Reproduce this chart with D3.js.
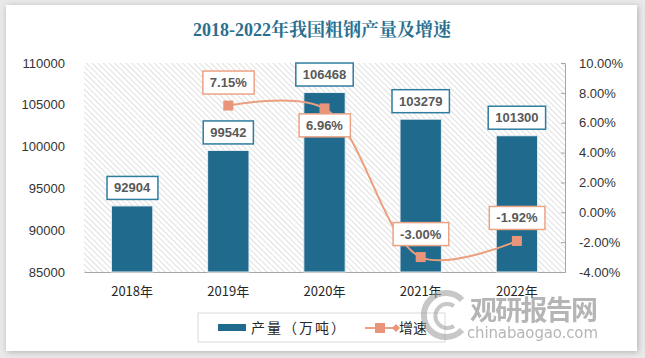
<!DOCTYPE html>
<html><head><meta charset="utf-8">
<script src="https://cdn.jsdelivr.net/npm/d3@7"></script>
<style>
html,body{margin:0;padding:0;background:#e9e9e9;}
svg{display:block;}
</style></head>
<body>
<svg id="c" width="645" height="358"></svg>
<script>
const title = "2018-2022年我国粗钢产量及增速";
const categories = ["2018年","2019年","2020年","2021年","2022年"];
const output = [92904, 99542, 106468, 103279, 101300];
const growth = [null, 7.15, 6.96, -3.00, -1.92];
const growthLabelPos = [null, "above", "below", "above", "above"];
const leftTicks = [85000, 90000, 95000, 100000, 105000, 110000];
const rightTicks = [-4, -2, 0, 2, 4, 6, 8, 10];
const seriesNames = ["产量（万吨）", "增速"];

const svg = d3.select("#c");
const font = "'Liberation Sans','DejaVu Sans',Arial,sans-serif";
const cjk = "'Noto Sans CJK SC','Noto Sans',sans-serif";

// card with shadow
const defs = svg.append("defs");
const f = defs.append("filter").attr("id","sh").attr("x","-5%").attr("y","-5%").attr("width","110%").attr("height","110%");
f.append("feGaussianBlur").attr("in","SourceAlpha").attr("stdDeviation",3);
f.append("feOffset").attr("dx",1).attr("dy",1).attr("result","b");
f.append("feComponentTransfer").append("feFuncA").attr("type","linear").attr("slope",0.25);
const fm = f.append("feMerge"); fm.append("feMergeNode"); fm.append("feMergeNode").attr("in","SourceGraphic");
svg.append("rect").attr("x",6).attr("y",5).attr("width",631).attr("height",346).attr("fill","#fff").attr("filter","url(#sh)");

// hatch pattern
const pat = defs.append("pattern").attr("id","hatch").attr("patternUnits","userSpaceOnUse")
  .attr("width",4).attr("height",4).attr("patternTransform","rotate(-45)");
pat.append("rect").attr("width",4).attr("height",4).attr("fill","#fff");
pat.append("line").attr("x1",0).attr("y1",0).attr("x2",0).attr("y2",4).attr("stroke","#d0d0d0").attr("stroke-width",1.3);

const L = 84, R = 565, T = 63, B = 272;
const x = d3.scaleBand().domain(categories).range([L,R]).paddingInner(0.57).paddingOuter(0.285);
const y = d3.scaleLinear().domain([85000,110000]).range([B,T]);
const y2 = d3.scaleLinear().domain([-4,10]).range([B,T]);

svg.append("rect").attr("x",L).attr("y",T).attr("width",R-L).attr("height",B-T).attr("fill","url(#hatch)");

// title
svg.append("text").attr("x",322).attr("y",36).attr("text-anchor","middle")
  .attr("font-family","'Liberation Serif','DejaVu Serif','Noto Serif CJK SC',serif").attr("font-weight","bold")
  .attr("font-size",18).attr("fill","#2a6f8f").text(title);

// left axis
const gl = svg.append("g").attr("transform",`translate(${L},0)`)
  .call(d3.axisLeft(y).tickValues(leftTicks).tickSize(0).tickPadding(19).tickFormat(d3.format("d")));
gl.select(".domain").remove();
gl.selectAll("text").attr("font-family",font).attr("font-size",13).attr("fill","#333");

// right axis
const gr = svg.append("g").attr("transform",`translate(${R},0)`)
  .call(d3.axisRight(y2).tickValues(rightTicks).tickSizeInner(-4).tickSizeOuter(-4).tickPadding(14).tickFormat(d => d.toFixed(2)+"%"));
gr.select(".domain").attr("stroke","#a6a6a6");
gr.selectAll("line").attr("stroke","#a6a6a6");
gr.selectAll("text").attr("font-family",font).attr("font-size",13).attr("fill","#333");

// bottom axis
const gb = svg.append("g").attr("transform",`translate(0,${B})`)
  .call(d3.axisBottom(x).tickSize(0).tickPadding(15));
gb.select(".domain").attr("stroke","#a6a6a6");
gb.selectAll("text").attr("font-family",cjk).attr("font-size",13).attr("fill","#262626");

// bars
svg.selectAll(".bar").data(output).join("rect")
  .attr("x",(d,i)=>x(categories[i])).attr("y",d=>y(d))
  .attr("width",x.bandwidth()).attr("height",d=>B-y(d))
  .attr("fill","#1f6a8d").attr("stroke","#e8eef2").attr("stroke-width",1);

// labels
function labelBox(g, cx, cy, txt, stroke){
  const t = g.append("text").attr("x",cx).attr("y",cy).attr("text-anchor","middle").attr("dy","0.35em")
    .attr("font-family",font).attr("font-weight","bold").attr("font-size",13).attr("fill","#595959").text(txt);
  const bb = t.node().getBBox();
  g.insert("rect","text").attr("x",bb.x-7).attr("y",cy-11.5).attr("width",bb.width+14).attr("height",23)
    .attr("fill","#fff").attr("stroke",stroke).attr("stroke-width",1.5);
}
output.forEach((d,i)=>{
  labelBox(svg.append("g"), x(categories[i])+x.bandwidth()/2, y(d)-18, d3.format("d")(d), "#2e7da0");
});

// growth line
const pts = growth.map((g,i)=>g==null?null:[x(categories[i])+x.bandwidth()/2, y2(g)]).filter(p=>p);
svg.append("path").attr("d",d3.line().curve(d3.curveCatmullRom.alpha(0.5))(pts))
  .attr("fill","none").attr("stroke","#eb9f7e").attr("stroke-width",2);
svg.selectAll(".mk").data(pts).join("rect")
  .attr("x",p=>p[0]-5).attr("y",p=>p[1]-5).attr("width",10).attr("height",10).attr("fill","#e8957a");

growth.forEach((g,i)=>{
  if(g==null) return;
  const cx = x(categories[i])+x.bandwidth()/2, cy = y2(g);
  const off = growthLabelPos[i]==="above" ? -23 : 17;
  labelBox(svg.append("g"), cx, cy+off, g.toFixed(2)+"%", "#eba385");
});

// legend
svg.append("rect").attr("x",198).attr("y",313).attr("width",247).attr("height",29)
  .attr("fill","#fff").attr("stroke","#d9d9d9").attr("stroke-width",1);
svg.append("rect").attr("x",218).attr("y",324).attr("width",28).attr("height",7).attr("fill","#1f6a8d");
svg.append("text").attr("x",251).attr("y",328).attr("dy","0.35em").attr("font-family",cjk).attr("font-size",14)
  .attr("fill","#262626").attr("letter-spacing",2).text(seriesNames[0]);
svg.append("line").attr("x1",365).attr("x2",397).attr("y1",328).attr("y2",328).attr("stroke","#eb9f7e").attr("stroke-width",2);
svg.append("rect").attr("x",375).attr("y",323).attr("width",10).attr("height",10).attr("fill","#e8957a");
svg.append("path").attr("d","M392,328 L396,324 L400,328 L396,332 Z").attr("fill","#e8957a");
svg.append("text").attr("x",399).attr("y",328).attr("dy","0.35em").attr("font-family",cjk).attr("font-size",14)
  .attr("fill","#262626").text(seriesNames[1]);

// watermark
const wm = svg.append("g").attr("opacity",0.55);
wm.append("path").attr("d","M462,300 A22,22 0 1,0 462,330").attr("fill","none").attr("stroke","#9a9a9a").attr("stroke-width",6);
wm.append("path").attr("d","M454,306 A12,12 0 1,0 454,326").attr("fill","none").attr("stroke","#9a9a9a").attr("stroke-width",4);
wm.append("text").attr("x",470).attr("y",320).attr("font-family",cjk).attr("font-weight","bold").attr("font-size",27)
  .attr("fill","#7a7a7a").attr("textLength",128).text("观研报告网");
wm.append("text").attr("x",467).attr("y",338).attr("font-family","'DejaVu Sans',sans-serif").attr("font-size",15)
  .attr("fill","#7a7a7a").attr("textLength",131).text("chinabaogao.com");
</script>
</body></html>
